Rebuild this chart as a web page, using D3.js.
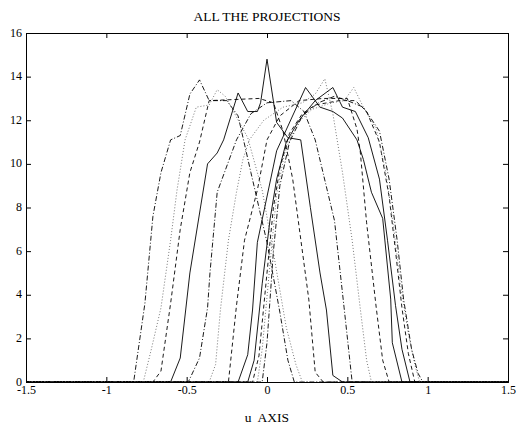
<!DOCTYPE html>
<html>
<head>
<meta charset="utf-8">
<script src="https://cdn.jsdelivr.net/npm/d3@7"></script>
<style>
  html, body { margin: 0; padding: 0; background: #fff; }
  #chart { width: 520px; height: 436px; }
  svg { display: block; font-family: "Liberation Serif", "DejaVu Serif", serif; }
  .axis text { font-size: 12px; fill: #000; }
  .chart-title, .axis-label { font-size: 13.5px; fill: #000; }
  .proj { fill: none; stroke-linejoin: round; }
</style>
</head>
<body>
<div id="chart"></div>
<script>
// Tick values
const xTicks = [-1.5, -1, -0.5, 0, 0.5, 1, 1.5];
const yTicks = [0, 2, 4, 6, 8, 10, 12, 14, 16];

// One array per projection: [u, value]
const proj1 = [[-1.5,0],[-0.83,0],[-0.76,3.6],[-0.71,7.6],[-0.66,9.6],[-0.60,11.1],[-0.54,11.3],[-0.48,13.2],[-0.42,13.85],[-0.36,12.9],[-0.25,12.9],[-0.18,12.2],[-0.1,9.6],[0.0,6.4],[0.08,3.2],[0.13,1.0],[0.17,0],[1.5,0]];
const proj2 = [[-1.5,0],[-0.77,0],[-0.72,1.5],[-0.66,3.4],[-0.60,6.5],[-0.56,8.8],[-0.51,11.1],[-0.44,12.6],[-0.36,12.7],[-0.31,13.4],[-0.26,13.1],[-0.12,11.2],[-0.03,8.8],[0.05,5.5],[0.12,2.5],[0.18,0.8],[0.22,0],[1.5,0]];
const proj3 = [[-1.5,0],[-0.71,0],[-0.66,0.5],[-0.60,3.6],[-0.54,7.0],[-0.48,9.6],[-0.42,11.0],[-0.36,12.9],[-0.05,13.0],[0.04,12.8],[0.10,11.5],[0.16,9.3],[0.26,3.8],[0.30,0.45],[0.35,0],[1.5,0]];
const proj4 = [[-1.5,0],[-0.60,0],[-0.54,1.1],[-0.48,5.0],[-0.37,10.0],[-0.31,10.5],[-0.27,11.1],[-0.18,13.25],[-0.12,12.4],[-0.06,12.4],[-0.04,12.8],[0.0,14.8],[0.06,11.9],[0.13,11.2],[0.21,11.1],[0.27,8.0],[0.33,5.0],[0.37,3.3],[0.41,0.3],[0.47,0],[1.5,0]];
const proj5 = [[-1.5,0],[-0.49,0],[-0.42,1.1],[-0.37,3.4],[-0.355,5.0],[-0.31,8.7],[-0.26,9.7],[-0.19,11.1],[-0.1,12.3],[0.0,12.8],[0.15,12.9],[0.23,12.4],[0.30,11.1],[0.42,7.4],[0.48,3.4],[0.53,0],[1.5,0]];
const proj6 = [[-1.5,0],[-0.36,0],[-0.32,0.8],[-0.29,3.3],[-0.24,6.5],[-0.19,8.7],[-0.15,10.2],[-0.11,11.1],[-0.02,12.0],[0.1,12.6],[0.22,12.8],[0.30,13.2],[0.36,13.9],[0.41,12.3],[0.47,9.6],[0.53,6.5],[0.58,3.4],[0.62,1.0],[0.65,0],[1.5,0]];
const proj7 = [[-1.5,0],[-0.24,0],[-0.19,3.5],[-0.14,6.5],[-0.06,8.8],[0.0,11.1],[0.08,12.2],[0.2,12.9],[0.35,13.0],[0.5,13.0],[0.56,11.6],[0.58,10.6],[0.62,7.3],[0.68,3.4],[0.72,1.0],[0.76,0],[1.5,0]];
const proj8 = [[-1.5,0],[-0.18,0],[-0.12,1.25],[-0.09,3.3],[-0.06,6.4],[0.04,9.9],[0.06,10.6],[0.24,13.5],[0.33,12.6],[0.41,12.4],[0.47,12.1],[0.56,11.1],[0.60,10.2],[0.65,8.7],[0.72,7.5],[0.77,3.8],[0.78,1.8],[0.84,0],[1.5,0]];
const proj9 = [[-1.5,0],[-0.12,0],[-0.08,1.0],[-0.03,4.5],[0.02,7.5],[0.06,9.3],[0.12,11.0],[0.2,12.0],[0.3,12.9],[0.41,13.5],[0.47,12.6],[0.55,12.4],[0.63,11.2],[0.70,9.3],[0.75,6.5],[0.80,3.5],[0.84,1.5],[0.89,0],[1.5,0]];
const proj10 = [[-1.5,0],[-0.09,0],[-0.05,1.2],[0.0,5.0],[0.04,8.0],[0.08,9.8],[0.14,11.4],[0.22,12.3],[0.3,12.7],[0.45,12.9],[0.55,12.9],[0.62,12.4],[0.70,11.0],[0.76,8.5],[0.80,6.0],[0.84,3.4],[0.88,1.3],[0.92,0],[1.5,0]];
const proj11 = [[-1.5,0],[-0.06,0],[-0.03,1.5],[0.02,5.5],[0.06,8.6],[0.11,10.5],[0.18,11.8],[0.28,12.5],[0.4,12.8],[0.48,12.9],[0.54,13.5],[0.6,12.6],[0.68,11.6],[0.74,9.6],[0.79,7.0],[0.83,4.5],[0.88,2.2],[0.92,0.8],[0.95,0],[1.5,0]];
const proj12 = [[-1.5,0],[-0.03,0],[0.0,1.8],[0.04,6.0],[0.08,9.0],[0.14,11.0],[0.22,12.2],[0.32,12.8],[0.42,13.1],[0.5,12.9],[0.6,12.6],[0.7,11.5],[0.76,9.3],[0.81,6.5],[0.85,3.8],[0.9,1.5],[0.94,0.4],[0.97,0],[1.5,0]];

const projections = [proj1, proj2, proj3, proj4, proj5, proj6, proj7, proj8, proj9, proj10, proj11, proj12];
const projStyles = ["dashdot", "dotted", "dashed", "solid", "dashdot", "dotted", "dashed", "solid", "solid", "dashed", "dotted", "dashdot"];

class ProjectionsChart {
  constructor({ el, series, styles, title, xLabel }) {
    this.el = el;
    this.series = series;
    this.styles = styles;
    this.title = title;
    this.xLabel = xLabel;
    this.initVis();
  }

  initVis() {
    const vis = this;
    vis.width = 520;
    vis.height = 436;
    vis.margin = { top: 33, right: 12, bottom: 54, left: 26 };

    vis.svg = d3
      .select(vis.el)
      .append("svg")
      .attr("width", vis.width)
      .attr("height", vis.height)
      .attr("viewBox", [0, 0, vis.width, vis.height]);

    vis.x = d3
      .scaleLinear()
      .domain([-1.5, 1.5])
      .range([vis.margin.left, vis.width - vis.margin.right]);
    vis.y = d3
      .scaleLinear()
      .domain([0, 16])
      .range([vis.height - vis.margin.bottom, vis.margin.top]);

    // dash patterns for the MATLAB-ish line styles
    vis.dash = {
      solid: null,
      dashed: "4,3",
      dotted: "1,2",
      dashdot: "5,2,1,2",
    };
    vis.strokeColor = {
      solid: "#000",
      dashed: "#000",
      dotted: "#777",
      dashdot: "#000",
    };

    vis.svg
      .append("clipPath")
      .attr("id", "plot-clip")
      .append("rect")
      .attr("x", vis.margin.left)
      .attr("y", vis.margin.top - 1)
      .attr("width", vis.x.range()[1] - vis.margin.left)
      .attr("height", vis.y.range()[0] - vis.margin.top + 2);

    vis.gLines = vis.svg
      .append("g")
      .attr("class", "lines")
      .attr("clip-path", "url(#plot-clip)");
    vis.gAxes = vis.svg.append("g").attr("class", "axes");

    vis.updateVis();
  }

  updateVis() {
    const vis = this;
    const [x0, x1] = vis.x.range();
    const [y0, y1] = vis.y.range();
    const tickLen = 5;
    const fmt = (d) => String(d); // plain hyphen, like the original

    const line = d3
      .line()
      .x((d) => vis.x(d[0]))
      .y((d) => vis.y(d[1]));

    vis.gLines
      .selectAll(".proj")
      .data(vis.series)
      .join("path")
      .attr("class", "proj")
      .attr("d", line)
      .attr("stroke", (d, i) => vis.strokeColor[vis.styles[i]])
      .attr("stroke-width", (d, i) => (vis.styles[i] === "dotted" ? 1 : 0.9))
      .attr("stroke-dasharray", (d, i) => vis.dash[vis.styles[i]]);

    // bottom / top / left / right axes with inward ticks
    vis.gAxes
      .append("g")
      .attr("class", "axis axis--x")
      .attr("transform", `translate(0,${y0})`)
      .call(d3.axisBottom(vis.x).tickValues(xTicks).tickSize(-tickLen).tickPadding(2).tickFormat(fmt))
      .attr("font-size", null)
      .attr("font-family", null)
      .call((g) => g.selectAll(".tick text").attr("y", 3.5));

    vis.gAxes
      .append("g")
      .attr("transform", `translate(0,${y1})`)
      .call(d3.axisTop(vis.x).tickValues(xTicks).tickSize(-tickLen).tickFormat(""));

    vis.gAxes
      .append("g")
      .attr("class", "axis axis--y")
      .attr("transform", `translate(${x0},0)`)
      .call(d3.axisLeft(vis.y).tickValues(yTicks).tickSize(-tickLen).tickPadding(4).tickFormat(fmt))
      .attr("font-size", null)
      .attr("font-family", null)
      .call((g) => g.selectAll(".tick text").attr("x", -4).attr("dy", "0.25em"));

    vis.gAxes
      .append("g")
      .attr("transform", `translate(${x1},0)`)
      .call(d3.axisRight(vis.y).tickValues(yTicks).tickSize(-tickLen).tickFormat(""));

    vis.gAxes.selectAll(".tick line").attr("stroke", "#000");
    vis.gAxes.selectAll(".domain").attr("stroke", "#000").attr("stroke-width", 1);

    vis.svg
      .append("text")
      .attr("class", "chart-title")
      .attr("x", (x0 + x1) / 2)
      .attr("y", 21)
      .attr("text-anchor", "middle")
      .text(vis.title);

    vis.svg
      .append("text")
      .attr("class", "axis-label")
      .attr("x", (x0 + x1) / 2)
      .attr("y", 422)
      .attr("text-anchor", "middle")
      .attr("xml:space", "preserve")
      .style("white-space", "pre")
      .text(vis.xLabel);
  }
}

new ProjectionsChart({
  el: document.getElementById("chart"),
  series: projections,
  styles: projStyles,
  title: "ALL THE PROJECTIONS",
  xLabel: "u  AXIS",
});
</script>
</body>
</html>
